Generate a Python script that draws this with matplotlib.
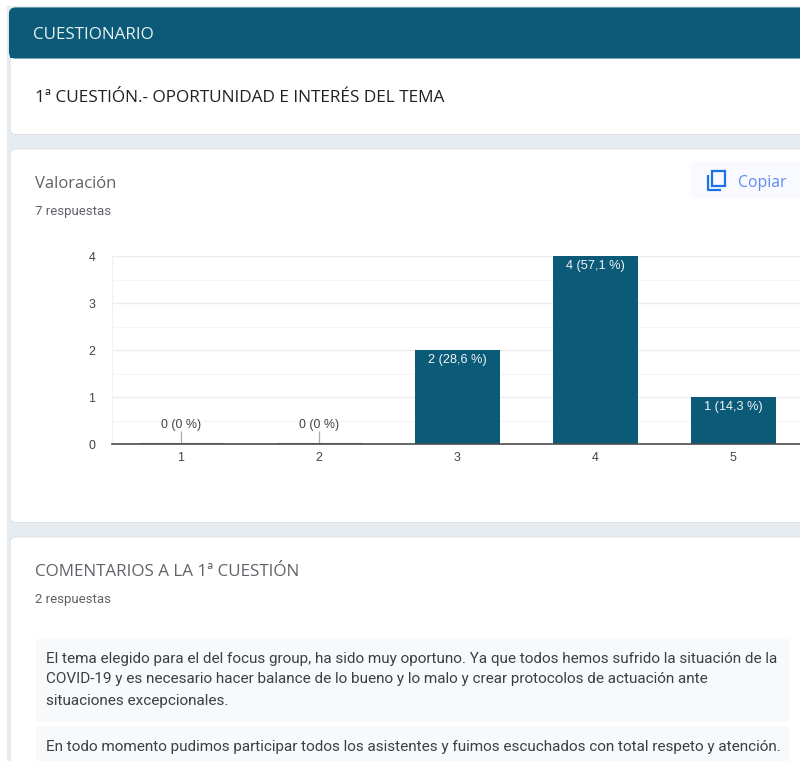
import matplotlib
matplotlib.use("Agg")
import matplotlib.pyplot as plt
from matplotlib.patches import FancyBboxPatch, Rectangle

categories = ["1", "2", "3", "4", "5"]
counts = [0, 0, 2, 4, 1]
bar_labels = ["0 (0 %)", "0 (0 %)", "2 (28,6 %)", "4 (57,1 %)", "1 (14,3 %)"]
y_ticks = [0, 1, 2, 3, 4]
comment_1 = ["El tema elegido para el del focus group, ha sido muy oportuno. Ya que todos hemos sufrido la situación de la",
             "COVID-19 y es necesario hacer balance de lo bueno y lo malo y crear protocolos de actuación ante",
             "situaciones excepcionales."]
comment_2 = "En todo momento pudimos participar todos los asistentes y fuimos escuchados con total respeto y atención."

W, H = 800, 761
TEAL = "#0b5b78"
fig = plt.figure(figsize=(W / 100, H / 100), dpi=100, facecolor="white")

page = fig.add_axes([0, 0, 1, 1])
page.set_xlim(0, W)
page.set_ylim(H, 0)
page.axis("off")

page.add_patch(Rectangle((7, 6), W, H, fc="#e6ecf0", ec="none"))

def card(x0, y0, x1, y1, color="white", edge="#dde3e8"):
    page.add_patch(FancyBboxPatch((x0 + 6, y0 + 6), x1 - x0 - 12, y1 - y0 - 12,
                                  boxstyle="round,pad=6,rounding_size=6",
                                  fc=color, ec=edge, lw=0.8))

page.add_patch(Rectangle((9.5, 50), 821, 30, fc="white", ec="none"))
card(10, 30, 830, 134.5)
card(9.5, 8, 830, 58, color=TEAL, edge=TEAL)
page.add_patch(Rectangle((9.5, 40), 821, 18, fc=TEAL, ec="none"))
card(10, 149, 830, 522.5)
card(10, 537, 830, 800)

page.add_patch(FancyBboxPatch((36, 638.5), 754, 83.5, boxstyle="round,pad=0,rounding_size=3",
                              fc="#f8f9fa", ec="none"))
page.add_patch(FancyBboxPatch((36, 726), 754, 60, boxstyle="round,pad=0,rounding_size=3",
                              fc="#f8f9fa", ec="none"))
page.add_patch(FancyBboxPatch((691, 161), 130, 38, boxstyle="round,pad=0,rounding_size=4",
                              fc="#f8faff", ec="none"))

# copy icon
BLUE = "#1a73e8"
page.add_patch(Rectangle((711.5, 171), 13, 15, fc="none", ec=BLUE, lw=1.6))
page.plot([707.5, 707.5, 720.5], [175, 190, 190], color=BLUE, lw=1.6, solid_capstyle="butt")

def txt(x, y, s, size, color, family="Roboto", **kw):
    page.text(x, y, s, fontsize=size * 0.72, color=color, family=family, va="center", **kw)

txt(33.5, 35, "CUESTIONARIO", 17, "#e8f0f3", family="Open Sans")
txt(35, 98, "1ª CUESTIÓN.- OPORTUNIDAD E INTERÉS DEL TEMA", 17.2, "#202124", family="Open Sans")
txt(35, 184, "Valoración", 16.6, "#5f6368", family="Open Sans")
txt(35, 212, "7 respuestas", 13.2, "#5f6368")
txt(738, 183, "Copiar", 15.7, "#5f8cf0", family="Open Sans")
txt(35, 572, "COMENTARIOS A LA 1ª CUESTIÓN", 17, "#5f6368", family="Open Sans")
txt(35, 600, "2 respuestas", 13.2, "#5f6368")
for y, line in zip([658.5, 679.5, 700.5], comment_1):
    txt(45.5, y, line, 15.2, "#3c4043")
txt(45.5, 746.5, comment_2, 15.2, "#3c4043")

# chart axes: pixel box x 112..800, y 256..444
ax = fig.add_axes([112 / W, 1 - 444 / H, (W - 112) / W, (444 - 256) / H])
ax.patch.set_alpha(0)
ax.set_xlim(-0.5, 4.483)
ax.set_ylim(0, 4)
ax.set_yticks(y_ticks)
ax.set_yticks([0.5, 1.5, 2.5, 3.5], minor=True)
ax.grid(True, axis="y", which="major", color="#ececec", lw=1)
ax.grid(True, axis="y", which="minor", color="#f5f5f5", lw=1)
ax.set_axisbelow(True)
for side in ("top", "right"):
    ax.spines[side].set_visible(False)
ax.spines["left"].set_color("#f2f2f2")
ax.spines["bottom"].set_color("#4d4d4d")
ax.spines["bottom"].set_linewidth(1.2)
xs = list(range(len(categories)))
ax.bar(xs, counts, width=0.616, color=TEAL, linewidth=0)
ax.set_xticks(xs, categories)
ax.tick_params(which="both", length=0)
ax.tick_params(axis="x", pad=6)
ax.tick_params(axis="y", pad=12)
for lab in ax.get_xticklabels() + ax.get_yticklabels():
    lab.set_fontsize(12.4 * 0.72)
    lab.set_color("#444444")
    lab.set_family("Liberation Sans")

for x, c, s in zip(xs, counts, bar_labels):
    if c == 0:
        ax.plot([x - 0.308, x + 0.308], [0.015, 0.015], color="#999999", lw=0.8, solid_capstyle="butt")
        ax.plot([x, x], [0, 0.27], color="#aaaaaa", lw=0.9, solid_capstyle="butt")
        ax.text(x, 0.40, s, ha="center", va="center", fontsize=12.4 * 0.72,
                color="#444444", family="Liberation Sans")
    else:
        ax.annotate(s, (x, c), xytext=(0, -7.5), textcoords="offset points", ha="center", va="center",
                    fontsize=12.8 * 0.72, color="#f0f5f7", family="Liberation Sans")

fig.savefig("out.png", dpi=100, facecolor="white")
